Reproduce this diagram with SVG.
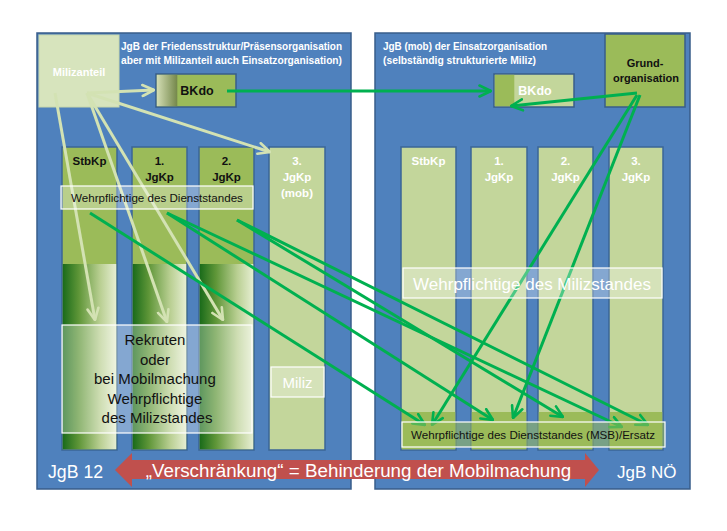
<svg xmlns="http://www.w3.org/2000/svg" width="727" height="531" viewBox="0 0 727 531">
<style>
.panel{fill:#4f81bd;stroke:#385d8a;stroke-width:1.5}
.col{stroke:#3b6696;stroke-width:1.5}
.g{fill:#9bbb59}
.lg{fill:#c3d69b}
.over{fill:#ffffff;fill-opacity:0.3;stroke:#ffffff;stroke-width:1.2}
.t{font-family:"Liberation Sans",Arial,sans-serif}
.b{font-weight:bold}
.w{fill:#ffffff}
.k{fill:#111111}
.cg{fill:none;stroke:#00b050;stroke-width:3}
.cl{fill:none;stroke:#d3e2b3;stroke-width:3}
</style>
<defs>
<linearGradient id="colgrad" x1="0" y1="0" x2="1" y2="0">
<stop offset="0" stop-color="#1a6b1a"/>
<stop offset="0.3" stop-color="#5f9638"/>
<stop offset="0.7" stop-color="#b9cf92"/>
<stop offset="1" stop-color="#e6eed2"/>
</linearGradient>
<linearGradient id="bkgrad" x1="0" y1="0" x2="1" y2="0">
<stop offset="0" stop-color="#d3ddb4"/>
<stop offset="1" stop-color="#74874a"/>
</linearGradient>
<marker id="ag" viewBox="0 0 14 14" markerWidth="14" markerHeight="14" markerUnits="userSpaceOnUse" refX="13" refY="7" orient="auto">
<path d="M1.5,1.5 L13,7 L1.5,12.5" fill="none" stroke="#00b050" stroke-width="2.6" stroke-linecap="round" stroke-linejoin="round"/>
</marker>
<marker id="al" viewBox="0 0 14 14" markerWidth="14" markerHeight="14" markerUnits="userSpaceOnUse" refX="13" refY="7" orient="auto">
<path d="M1.5,1.5 L13,7 L1.5,12.5" fill="none" stroke="#d3e2b3" stroke-width="2.6" stroke-linecap="round" stroke-linejoin="round"/>
</marker>
</defs>
<rect width="727" height="531" fill="#ffffff"/>

<g id="panel-left">
<rect class="panel" x="37" y="33" width="314" height="456"/>
<text class="t b w" x="121" y="50" font-size="10.5" textLength="221" lengthAdjust="spacingAndGlyphs">JgB der Friedensstruktur/Präsensorganisation</text>
<text class="t b w" x="121" y="64" font-size="10.5" textLength="221" lengthAdjust="spacingAndGlyphs">aber mit Milizanteil auch Einsatzorganisation)</text>
</g>
<g id="panel-right">
<rect class="panel" x="375" y="33" width="315" height="456"/>
<text class="t b w" x="383" y="50" font-size="10.5" textLength="164" lengthAdjust="spacingAndGlyphs">JgB (mob) der Einsatzorganisation</text>
<text class="t b w" x="383" y="64" font-size="10.5" textLength="153" lengthAdjust="spacingAndGlyphs">(selbständig strukturierte Miliz)</text>
</g>

<g id="milizanteil">
<rect x="39" y="35" width="80" height="72" fill="#d7e4bd" stroke="#c9d8ab" stroke-width="1"/>
<text class="t b w" x="79" y="76" font-size="11" text-anchor="middle">Milizanteil</text>
</g>
<g id="bkdo-left">
<rect x="156" y="74" width="80" height="33" class="g" stroke="#385d8a" stroke-width="1.5"/>
<rect x="156.8" y="74.8" width="20.5" height="31.4" fill="url(#bkgrad)"/>
<text class="t b k" x="197" y="95" font-size="12.5" text-anchor="middle">BKdo</text>
</g>
<g id="grundorganisation">
<rect x="605" y="34" width="80" height="73" class="g" stroke="#385d8a" stroke-width="1.5"/>
<text class="t b k" x="645" y="67" font-size="11" text-anchor="middle">Grund-</text>
<text class="t b k" x="646" y="82" font-size="11" text-anchor="middle">organisation</text>
</g>
<g id="bkdo-right">
<rect x="494" y="74" width="80" height="33" class="lg" stroke="#385d8a" stroke-width="1.5"/>
<rect x="494.8" y="74.8" width="19.5" height="31.4" class="g"/>
<text class="t b w" x="535" y="95" font-size="12.5" text-anchor="middle">BKdo</text>
</g>

<g id="left-stbkp">
<rect class="col g" x="62" y="147" width="55" height="303"/>
<rect x="62.8" y="264" width="53.4" height="185.2" fill="url(#colgrad)"/>
<text class="t b k" x="89.5" y="165" font-size="11.5" text-anchor="middle">StbKp</text>
</g>
<g id="left-1jgkp">
<rect class="col g" x="132" y="147" width="55" height="303"/>
<rect x="132.8" y="264" width="53.4" height="185.2" fill="url(#colgrad)"/>
<text class="t b k" x="159.5" y="165" font-size="11.5" text-anchor="middle">1.</text>
<text class="t b k" x="159.5" y="181" font-size="11.5" text-anchor="middle">JgKp</text>
</g>
<g id="left-2jgkp">
<rect class="col g" x="199" y="147" width="55" height="303"/>
<rect x="199.8" y="264" width="53.4" height="185.2" fill="url(#colgrad)"/>
<text class="t b k" x="226.5" y="165" font-size="11.5" text-anchor="middle">2.</text>
<text class="t b k" x="226.5" y="181" font-size="11.5" text-anchor="middle">JgKp</text>
</g>
<g id="left-3jgkp">
<rect class="col lg" x="269" y="147" width="56" height="303"/>
<text class="t b w" x="297" y="165" font-size="11.5" text-anchor="middle">3.</text>
<text class="t b w" x="297" y="181" font-size="11.5" text-anchor="middle">JgKp</text>
<text class="t b w" x="297" y="197" font-size="11.5" text-anchor="middle">(mob)</text>
</g>

<g id="right-stbkp">
<rect class="col lg" x="401" y="147" width="55" height="303"/>
<rect x="401.8" y="412" width="53.4" height="37.2" class="g"/>
<text class="t b w" x="428.5" y="165" font-size="11.5" text-anchor="middle">StbKp</text>
</g>
<g id="right-1jgkp">
<rect class="col lg" x="471" y="147" width="56" height="303"/>
<rect x="471.8" y="412" width="54.4" height="37.2" class="g"/>
<text class="t b w" x="499" y="165" font-size="11.5" text-anchor="middle">1.</text>
<text class="t b w" x="499" y="181" font-size="11.5" text-anchor="middle">JgKp</text>
</g>
<g id="right-2jgkp">
<rect class="col lg" x="538" y="147" width="55" height="303"/>
<rect x="538.8" y="412" width="53.4" height="37.2" class="g"/>
<text class="t b w" x="565.5" y="165" font-size="11.5" text-anchor="middle">2.</text>
<text class="t b w" x="565.5" y="181" font-size="11.5" text-anchor="middle">JgKp</text>
</g>
<g id="right-3jgkp">
<rect class="col lg" x="609" y="147" width="54" height="303"/>
<rect x="609.8" y="412" width="52.4" height="37.2" class="g"/>
<text class="t b w" x="636" y="165" font-size="11.5" text-anchor="middle">3.</text>
<text class="t b w" x="636" y="181" font-size="11.5" text-anchor="middle">JgKp</text>
</g>

<g id="connectors">
<path class="cl" d="M87,93 L154,90" marker-end="url(#al)"/>
<path class="cl" d="M55,93 L95,320" marker-end="url(#al)"/>
<path class="cl" d="M87,93 L167,322" marker-end="url(#al)"/>
<path class="cl" d="M87,93 L223,320" marker-end="url(#al)"/>
<path class="cl" d="M87,93 L270,152" marker-end="url(#al)"/>
<path class="cg" d="M227,91 L491,91" marker-end="url(#ag)"/>
<path class="cg" d="M637,93 L511,106" marker-end="url(#ag)"/>
<path class="cg" d="M637,95 L432,425" marker-end="url(#ag)"/>
<path class="cg" d="M640,95 L513,418" marker-end="url(#ag)"/>
<path class="cg" d="M90,213 L425,425" marker-end="url(#ag)"/>
<path class="cg" d="M167,213 L493,420" marker-end="url(#ag)"/>
<path class="cg" d="M167,213 L622,427" marker-end="url(#ag)"/>
<path class="cg" d="M237,220 L563,417" marker-end="url(#ag)"/>
<path class="cg" d="M237,220 L648,425" marker-end="url(#ag)"/>
</g>

<g id="dienststand-left">
<rect class="over" x="61" y="186" width="192" height="23"/>
<text class="t k" x="157" y="202" font-size="11.6" text-anchor="middle">Wehrpflichtige des Dienststandes</text>
</g>
<g id="rekruten">
<rect class="over" x="62" y="325" width="190" height="108"/>
<text class="t k" font-size="15" text-anchor="middle">
<tspan x="157" y="345">Rekruten</tspan>
<tspan x="157" y="364.5">oder</tspan>
<tspan x="157" y="384">bei Mobilmachung</tspan>
<tspan x="157" y="403.5">Wehrpflichtige</tspan>
<tspan x="157" y="423">des Milizstandes</tspan>
</text>
</g>
<g id="miliz">
<rect class="over" x="271" y="367" width="53" height="30"/>
<text class="t w" x="297.5" y="388" font-size="15" text-anchor="middle">Miliz</text>
</g>
<g id="milizstand-right">
<rect class="over" x="403" y="268" width="259" height="30"/>
<text class="t w" x="532" y="290" font-size="17" text-anchor="middle">Wehrpflichtige des Milizstandes</text>
</g>
<g id="msb">
<rect x="402" y="422" width="263" height="25" fill="#9bbb59" fill-opacity="0.55" stroke="#ffffff" stroke-width="1.2"/>
<text class="t k" x="533" y="439" font-size="11.6" text-anchor="middle">Wehrpflichtige des Dienststandes (MSB)/Ersatz</text>
</g>

<g id="verschraenkung">
<polygon points="115,470 132,453 132,460 585,460 585,453 599,470 585,487 585,479 132,479 132,487" fill="#c0504d"/>
<text class="t w" x="358.5" y="477" font-size="18.8" text-anchor="middle">„Verschränkung“ = Behinderung der Mobilmachung</text>
</g>
<g id="labels">
<text class="t w" x="48" y="478" font-size="17.7">JgB 12</text>
<text class="t w" x="617" y="478" font-size="17">JgB NÖ</text>
</g>
</svg>
